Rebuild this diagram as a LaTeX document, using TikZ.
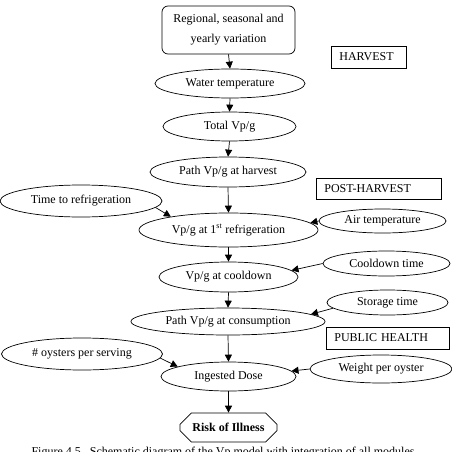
\documentclass[tikz,border=0pt]{standalone}
\usepackage{fontspec}
\setmainfont{Liberation Serif}
\usetikzlibrary{shapes.geometric,shapes.misc,arrows.meta}
\begin{document}
\begin{tikzpicture}[x=1pt,y=-1pt,
  every node/.style={font=\fontsize{12}{14}\selectfont, inner sep=0pt},
  ell/.style={draw, ellipse, line width=0.7pt},
  lab/.style={draw, rectangle, line width=0.7pt, anchor=west, align=left, inner xsep=8pt, minimum height=22pt},
  arr/.style={line width=0.7pt, -{Triangle[length=7pt,width=7pt]}}
]
\useasboundingbox (0,0) rectangle (451,452);

\node[draw, rounded corners=6pt, line width=0.7pt, minimum width=133pt, minimum height=48pt, align=center, font=\fontsize{12}{20}\selectfont] (top) at (228.5,30) {Regional, seasonal and\\yearly variation};

\node[lab, text width=59pt] (harv) at (331,57) {HARVEST};
\node[lab, text width=109pt, minimum height=21pt] (post) at (316,188.5) {POST-HARVEST};
\node[lab, text width=107pt] (pub) at (326,338) {PUBLIC HEALTH};

\node[ell, minimum width=150pt, minimum height=29pt] (wt) at (230,83.5) {Water temperature};
\node[ell, minimum width=133pt, minimum height=29pt] (tv) at (229.5,126.5) {Total Vp/g};
\node[ell, minimum width=156pt, minimum height=30pt] (ph) at (228,172) {Path Vp/g at harvest};
\node[ell, minimum width=162pt, minimum height=32pt] (tr) at (81,201) {Time to refrigeration};
\node[ell, minimum width=179pt, minimum height=34pt] (vp1) at (228.5,230) {Vp/g at 1\textsuperscript{st} refrigeration};
\node[ell, minimum width=127pt, minimum height=24pt] (air) at (382.5,221) {Air temperature};
\node[ell, minimum width=139pt, minimum height=30pt] (vpc) at (228.5,277) {Vp/g at cooldown};
\node[ell, minimum width=127pt, minimum height=25pt] (ct) at (386.5,263.5) {Cooldown time};
\node[ell, minimum width=121pt, minimum height=25pt] (st) at (387.5,302.5) {Storage time};
\node[ell, minimum width=194pt, minimum height=27pt] (pc) at (228,321.5) {Path Vp/g at consumption};
\node[ell, minimum width=161pt, minimum height=32pt] (os) at (82,354) {\# oysters per serving};
\node[ell, minimum width=135pt, minimum height=29pt] (id) at (228.5,376.5) {Ingested Dose};
\node[ell, minimum width=142pt, minimum height=28pt] (wo) at (381,369) {Weight per oyster};
\node[draw, chamfered rectangle, chamfered rectangle xsep=9pt, chamfered rectangle ysep=7pt, line width=0.7pt, minimum width=97pt, minimum height=29pt, font=\bfseries\fontsize{12}{14}\selectfont] (risk) at (228.5,427.5) {Risk of Illness};

\node[anchor=base] (cap) at (223,455) {Figure 4.5.\ \ Schematic diagram of the Vp model with integration of all modules};

\draw[arr] (top.south) -- (wt.north);
\draw[arr] (wt.south) -- (tv.north);
\draw[arr] (tv.south) -- (ph.north);
\draw[arr] (ph.south) -- (vp1.north);
\draw[arr] (vp1.south) -- (vpc.north);
\draw[arr] (vpc.south) -- (pc.north);
\draw[arr] (pc.south) -- (id.north);
\draw[arr] (id.south) -- (risk.north);

\draw[arr] (tr.-5) -- (vp1.167);
\draw[arr] (air.west) -- (vp1.5);
\draw[arr] (ct.west) -- (vpc.6);
\draw[arr] (st.186) -- (pc.5);
\draw[arr] (os.-3) -- (id.169);
\draw[arr] (wo.west) -- (id.5);
\end{tikzpicture}
\end{document}
